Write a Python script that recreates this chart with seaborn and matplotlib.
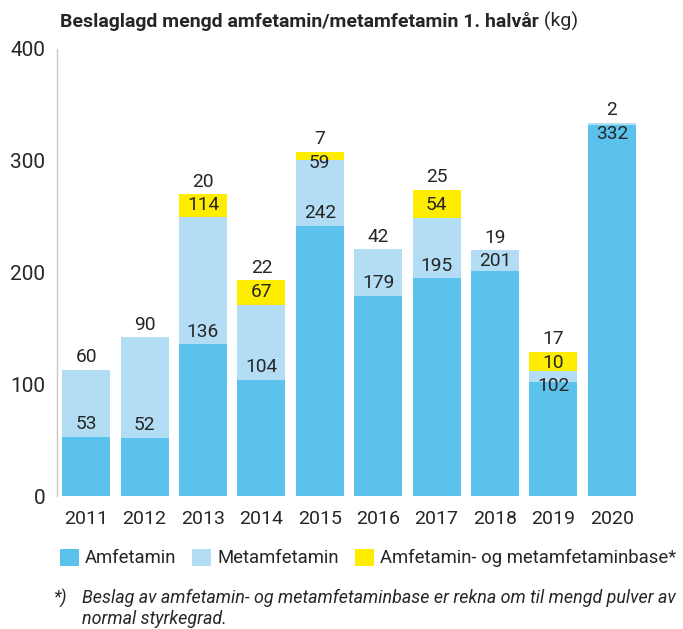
import numpy as np
import pandas as pd
import matplotlib
matplotlib.use("Agg")
import matplotlib.pyplot as plt
import seaborn as sns
from matplotlib.patches import Patch

years = ["2011", "2012", "2013", "2014", "2015", "2016", "2017", "2018", "2019", "2020"]
amfetamin = [53, 52, 136, 104, 242, 179, 195, 201, 102, 332]
metamfetamin = [60, 90, 114, 67, 59, 42, 54, 19, 10, 2]
base = [0, 0, 20, 22, 7, 0, 25, 0, 17, 0]
yticks = [0, 100, 200, 300, 400]

series_names = ["Amfetamin", "Metamfetamin", "Amfetamin- og metamfetaminbase*"]
title_bold = "Beslaglagd mengd amfetamin/metamfetamin 1. halvår"
title_unit = " (kg)"
footnote_lines = ["Beslag av amfetamin- og metamfetaminbase er rekna om til mengd pulver av",
                  "normal styrkegrad."]

DARK = "#5bc2ee"
LIGHT = "#b3ddf4"
YELLOW = "#ffed00"
TXT = "#262626"

sns.set_theme(style="white")
plt.rcParams["font.family"] = ["Roboto", "DejaVu Sans"]

df = pd.DataFrame({"year": years,
                   "amf": amfetamin,
                   "met": metamfetamin,
                   "base": base})
df["t2"] = df["amf"] + df["met"]
df["t3"] = df["t2"] + df["base"]
df["t3_draw"] = np.where(df["base"] > 0, df["t3"], np.nan)

W, H = 683, 629
fig = plt.figure(figsize=(W / 100, H / 100), dpi=100)
ax = fig.add_axes([57 / W, 133 / H, 584 / W, 447 / H])

common = dict(data=df, x="year", order=years, saturation=1, width=0.82,
              errorbar=None, ax=ax, linewidth=0)
sns.barplot(y="t3_draw", color=YELLOW, **common)
sns.barplot(y="t2", color=LIGHT, **common)
sns.barplot(y="amf", color=DARK, **common)

ax.set_xlim(-0.5, len(years) - 0.5)
ax.set_ylim(0, 400)
ax.set_yticks(yticks)
ax.set_yticklabels([str(v) for v in yticks])
ax.set_xlabel("")
ax.set_ylabel("")
ax.tick_params(axis="both", length=0, colors=TXT)
ax.tick_params(axis="y", pad=8.5, labelsize=15)
ax.tick_params(axis="x", pad=10, labelsize=14)
for s in ["top", "right", "bottom"]:
    ax.spines[s].set_visible(False)
ax.spines["left"].set_color("#c8c8c8")
ax.spines["left"].set_linewidth(1)
ax.grid(False)

# value labels: each label sits just above the top of its segment,
# pushed down if it would collide with the label above it
OFF = 11.2
GAP = 21
for i in range(len(years)):
    a, m, b = amfetamin[i], metamfetamin[i], base[i]
    segs = [(a, a), (m, a + m), (b, a + m + b)]
    segs = [s for s in segs if s[0] > 0]
    prev = np.inf
    for val, top in reversed(segs):
        y = min(top + OFF, prev - GAP)
        ax.text(i, y, str(val), ha="center", va="center", fontsize=13.8, color=TXT)
        prev = y

# title
t1 = fig.text(60 / W, 1 - 26.7 / H, title_bold, fontsize=14, fontweight="bold",
              color=TXT, va="baseline", ha="left")
r = fig.canvas.get_renderer()
bb = t1.get_window_extent(r)
fig.text(bb.x1 / fig.bbox.width, 1 - 26.7 / H, title_unit, fontsize=14,
         color=TXT, va="baseline", ha="left")

# legend
handles = [Patch(facecolor=c, edgecolor="none") for c in (DARK, LIGHT, YELLOW)]
fig.legend(handles, series_names, loc="center left",
           bbox_to_anchor=(60 / W, 1 - 558 / H), ncol=3, frameon=False,
           fontsize=13.3, handlelength=1.04, handleheight=1.04, handletextpad=0.32,
           columnspacing=0.85, borderpad=0, borderaxespad=0, labelcolor=TXT)

# footnote
fig.text(53 / W, 1 - 603.3 / H, "*)", fontsize=12.9, style="italic", color=TXT,
         va="baseline", ha="left")
for k, line in enumerate(footnote_lines):
    fig.text(82 / W, 1 - (603.3 + 21 * k) / H, line, fontsize=12.9, style="italic",
             color=TXT, va="baseline", ha="left")

fig.savefig("out.png", dpi=100)
